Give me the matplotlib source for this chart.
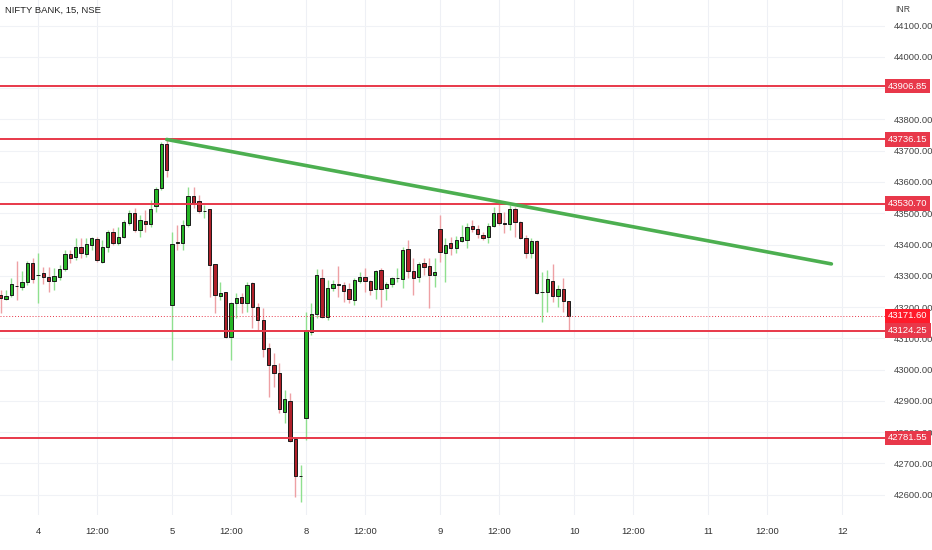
import matplotlib
matplotlib.use("Agg")
import matplotlib.pyplot as plt
import matplotlib.transforms as mtransforms
import numpy as np

# 15 minute candles, NIFTY BANK (last 7 bars of day 3, then days 4, 5, 8, 9)
opens = [
    43238, 43225, 43238, 43267, 43264, 43280, 43340,
    # day 4
    43302, 43308, 43296, 43283, 43296, 43321, 43369, 43360, 43392, 43369,
    43398, 43417, 43344, 43392, 43440, 43404, 43424, 43468, 43500, 43446,
    43475, 43465, 43523, 43580, 43721,
    # day 5
    43206, 43407, 43404, 43462, 43555, 43539, 43506, 43513, 43337, 43235,
    43248, 43104, 43212, 43232, 43212, 43276, 43200, 43158, 43068, 43014,
    42988, 42864, 42899, 42777, 42659,
    # day 8
    42844, 43120, 43177, 43292, 43168, 43260, 43274, 43270, 43257, 43222,
    43283, 43296, 43283, 43257, 43318, 43260, 43273, 43292, 43289, 43385,
    43315, 43296, 43340, 43331, 43302,
    # day 9
    43449, 43372, 43404, 43388, 43411, 43414, 43459, 43449, 43430, 43424,
    43459, 43500, 43469, 43465, 43513, 43472, 43420, 43372, 43411, 43247,
    43248, 43283, 43235, 43257, 43219,
]
highs = [
    43254, 43254, 43292, 43347, 43315, 43347, 43356,
    43372, 43328, 43328, 43324, 43334, 43382, 43382, 43420, 43420, 43420,
    43424, 43424, 43414, 43446, 43452, 43456, 43478, 43510, 43516, 43494,
    43510, 43542, 43584, 43728, 43736,
    43440, 43462, 43478, 43584, 43584, 43558, 43526, 43514, 43338, 43280,
    43249, 43216, 43244, 43244, 43280, 43280, 43212, 43196, 43084, 43052,
    43020, 42934, 42924, 42778, 42694,
    43184, 43212, 43321, 43321, 43286, 43286, 43331, 43280, 43276, 43292,
    43312, 43324, 43286, 43318, 43324, 43280, 43296, 43324, 43392, 43414,
    43356, 43344, 43356, 43356, 43356,
    43494, 43420, 43424, 43427, 43462, 43468, 43478, 43462, 43440, 43468,
    43520, 43532, 43504, 43526, 43520, 43475, 43430, 43420, 43414, 43312,
    43318, 43337, 43270, 43292, 43220,
]
lows = [
    43180, 43222, 43232, 43222, 43254, 43270, 43276,
    43212, 43273, 43248, 43254, 43286, 43315, 43340, 43350, 43356, 43360,
    43382, 43344, 43340, 43376, 43398, 43398, 43420, 43462, 43440, 43424,
    43440, 43456, 43504, 43574, 43616,
    43030, 43382, 43382, 43456, 43516, 43500, 43484, 43232, 43180, 43222,
    43100, 43030, 43164, 43180, 43184, 43132, 43126, 43039, 42912, 42943,
    42860, 42828, 42768, 42592, 42576,
    42774, 43110, 43164, 43164, 43158, 43251, 43232, 43216, 43212, 43206,
    43276, 43248, 43238, 43225, 43200, 43222, 43264, 43280, 43260, 43292,
    43238, 43280, 43302, 43196, 43264,
    43344, 43280, 43366, 43372, 43408, 43388, 43440, 43420, 43414, 43404,
    43456, 43462, 43436, 43446, 43424, 43417, 43356, 43356, 43241, 43152,
    43184, 43216, 43200, 43184, 43124.25,
]
closes = [
    43228, 43235, 43273, 43266, 43280, 43340, 43289,
    43303, 43296, 43283, 43299, 43321, 43369, 43356, 43392, 43372, 43401,
    43420, 43350, 43392, 43440, 43404, 43424, 43472, 43500, 43446, 43478,
    43465, 43513, 43577, 43721, 43638,
    43401, 43405, 43462, 43555, 43532, 43507, 43507, 43334, 43238, 43244,
    43104, 43212, 43228, 43212, 43270, 43200, 43158, 43065, 43014, 42988,
    42873, 42905, 42771, 42659, 42661,
    43126, 43177, 43302, 43168, 43260, 43273, 43272, 43251, 43225, 43286,
    43296, 43283, 43254, 43315, 43257, 43273, 43292, 43293, 43382, 43315,
    43292, 43337, 43328, 43302, 43312,
    43376, 43398, 43388, 43414, 43424, 43456, 43449, 43433, 43420, 43459,
    43500, 43468, 43467, 43513, 43472, 43420, 43372, 43411, 43244, 43249,
    43289, 43235, 43257, 43219, 43171.6,
]

# drawn levels
levels = [43906.85, 43736.15, 43530.70, 43124.25, 42781.55]
last_price = 43171.60
trend_x = [31, 155]
trend_y = [43736, 43338]

# time axis: first bar of each day and the 12:00 bar
day_labels = ["4", "5", "8", "9", "10", "11", "12"]
day_first_bar = 7
bars_per_day = 25
noon_offset = 11
price_ticks = list(range(42600, 44101, 100))

GREEN_BODY = "#26b526"
RED_BODY = "#b0202a"
GREEN_WICK = "#8fe08f"
RED_WICK = "#eea0a4"
LEVEL_RED = "#e8384a"
FONT = ["Liberation Sans", "DejaVu Sans"]

plt.rcParams["font.family"] = FONT

fig = plt.figure(figsize=(9.32, 5.5), dpi=100)
ax = fig.add_axes([0, 35 / 550, 885 / 932, 515 / 550])
x_lo, x_hi = -0.1, 165.0

o = np.array(opens, dtype=float)
h = np.array(highs, dtype=float)
l = np.array(lows, dtype=float)
c = np.array(closes, dtype=float)
idx = np.arange(len(o))
up = c >= o

# grid
day_pos = [day_first_bar + bars_per_day * d for d in range(len(day_labels))]
noon_pos = [p + noon_offset for p in day_pos]
for xp in [day_first_bar - bars_per_day + noon_offset] + day_pos + noon_pos:
    ax.axvline(xp, color="#eef0f5", lw=0.8, zorder=0)
for yp in price_ticks:
    ax.axhline(yp, color="#f0f2f6", lw=0.8, zorder=0)

# wicks
ax.vlines(idx[up], l[up], h[up], color=GREEN_WICK, lw=1.0, zorder=2)
ax.vlines(idx[~up], l[~up], h[~up], color=RED_WICK, lw=1.0, zorder=2)

# bodies
bottom = np.minimum(o, c)
height = np.maximum(np.abs(c - o), 1.0)
ax.bar(idx[up], height[up], bottom=bottom[up], width=0.62,
       color=GREEN_BODY, edgecolor="#1a1a1a", linewidth=0.7, zorder=3)
ax.bar(idx[~up], height[~up], bottom=bottom[~up], width=0.62,
       color=RED_BODY, edgecolor="#1a1a1a", linewidth=0.7, zorder=3)

# horizontal levels
for lv in levels:
    ax.axhline(lv, color=LEVEL_RED, lw=1.4, zorder=4)
ax.axhline(last_price, color=LEVEL_RED, lw=0.7, ls=(0, (1, 2)), zorder=4)

# trend line
ax.plot(trend_x, trend_y, color="#4caf50", lw=2.6, solid_capstyle="round",
        zorder=5)

# ticks (only those inside the pane, then fix the limits)
ticks = []
tick_labels = []
for d, lab in enumerate(day_labels):
    for pos, txt in ((day_pos[d], lab), (noon_pos[d], "12:00")):
        if x_lo <= pos <= x_hi:
            ticks.append(pos)
            tick_labels.append(txt)
ax.set_xticks(ticks)
ax.set_xticklabels(tick_labels, fontsize=6.8, color="#333333")
ax.yaxis.tick_right()
# the 43900 label sits fully under the 43906.85 tag, as on the original
shown_ticks = [p for p in price_ticks if p != 43900]
ax.set_yticks(shown_ticks)
ax.set_yticklabels(["%.2f" % p for p in shown_ticks], fontsize=6.8,
                   color="#444444")
ax.set_xlim(x_lo, x_hi)
ax.set_ylim(42535, 44182)
ax.tick_params(axis="x", length=0, pad=9)
ax.tick_params(axis="y", length=0, pad=6)
for s in ax.spines.values():
    s.set_visible(False)

# price tags on the scale
trans = mtransforms.blended_transform_factory(ax.transAxes, ax.transData)
for lv in levels:
    ax.text(1.0035, lv, "%.2f" % lv, transform=trans, fontsize=6.8,
            color="white", va="center", ha="left", zorder=10, clip_on=False,
            bbox=dict(boxstyle="square,pad=0.3", fc=LEVEL_RED, ec="none"))
ax.text(1.0035, last_price, "%.2f" % last_price, transform=trans,
        fontsize=6.8, color="white", va="center", ha="left", zorder=11,
        clip_on=False,
        bbox=dict(boxstyle="square,pad=0.3", fc="#ff1a2a", ec="none"))

fig.text(0.005, 1 - 10 / 550, "NIFTY BANK, 15, NSE", fontsize=6.8,
         color="#222222", va="center", ha="left")
fig.text(895 / 932, 1 - 10 / 550, "INR", fontsize=6.2, color="#444444",
         va="center", ha="left")

fig.savefig("out.png", dpi=100, facecolor="white")
